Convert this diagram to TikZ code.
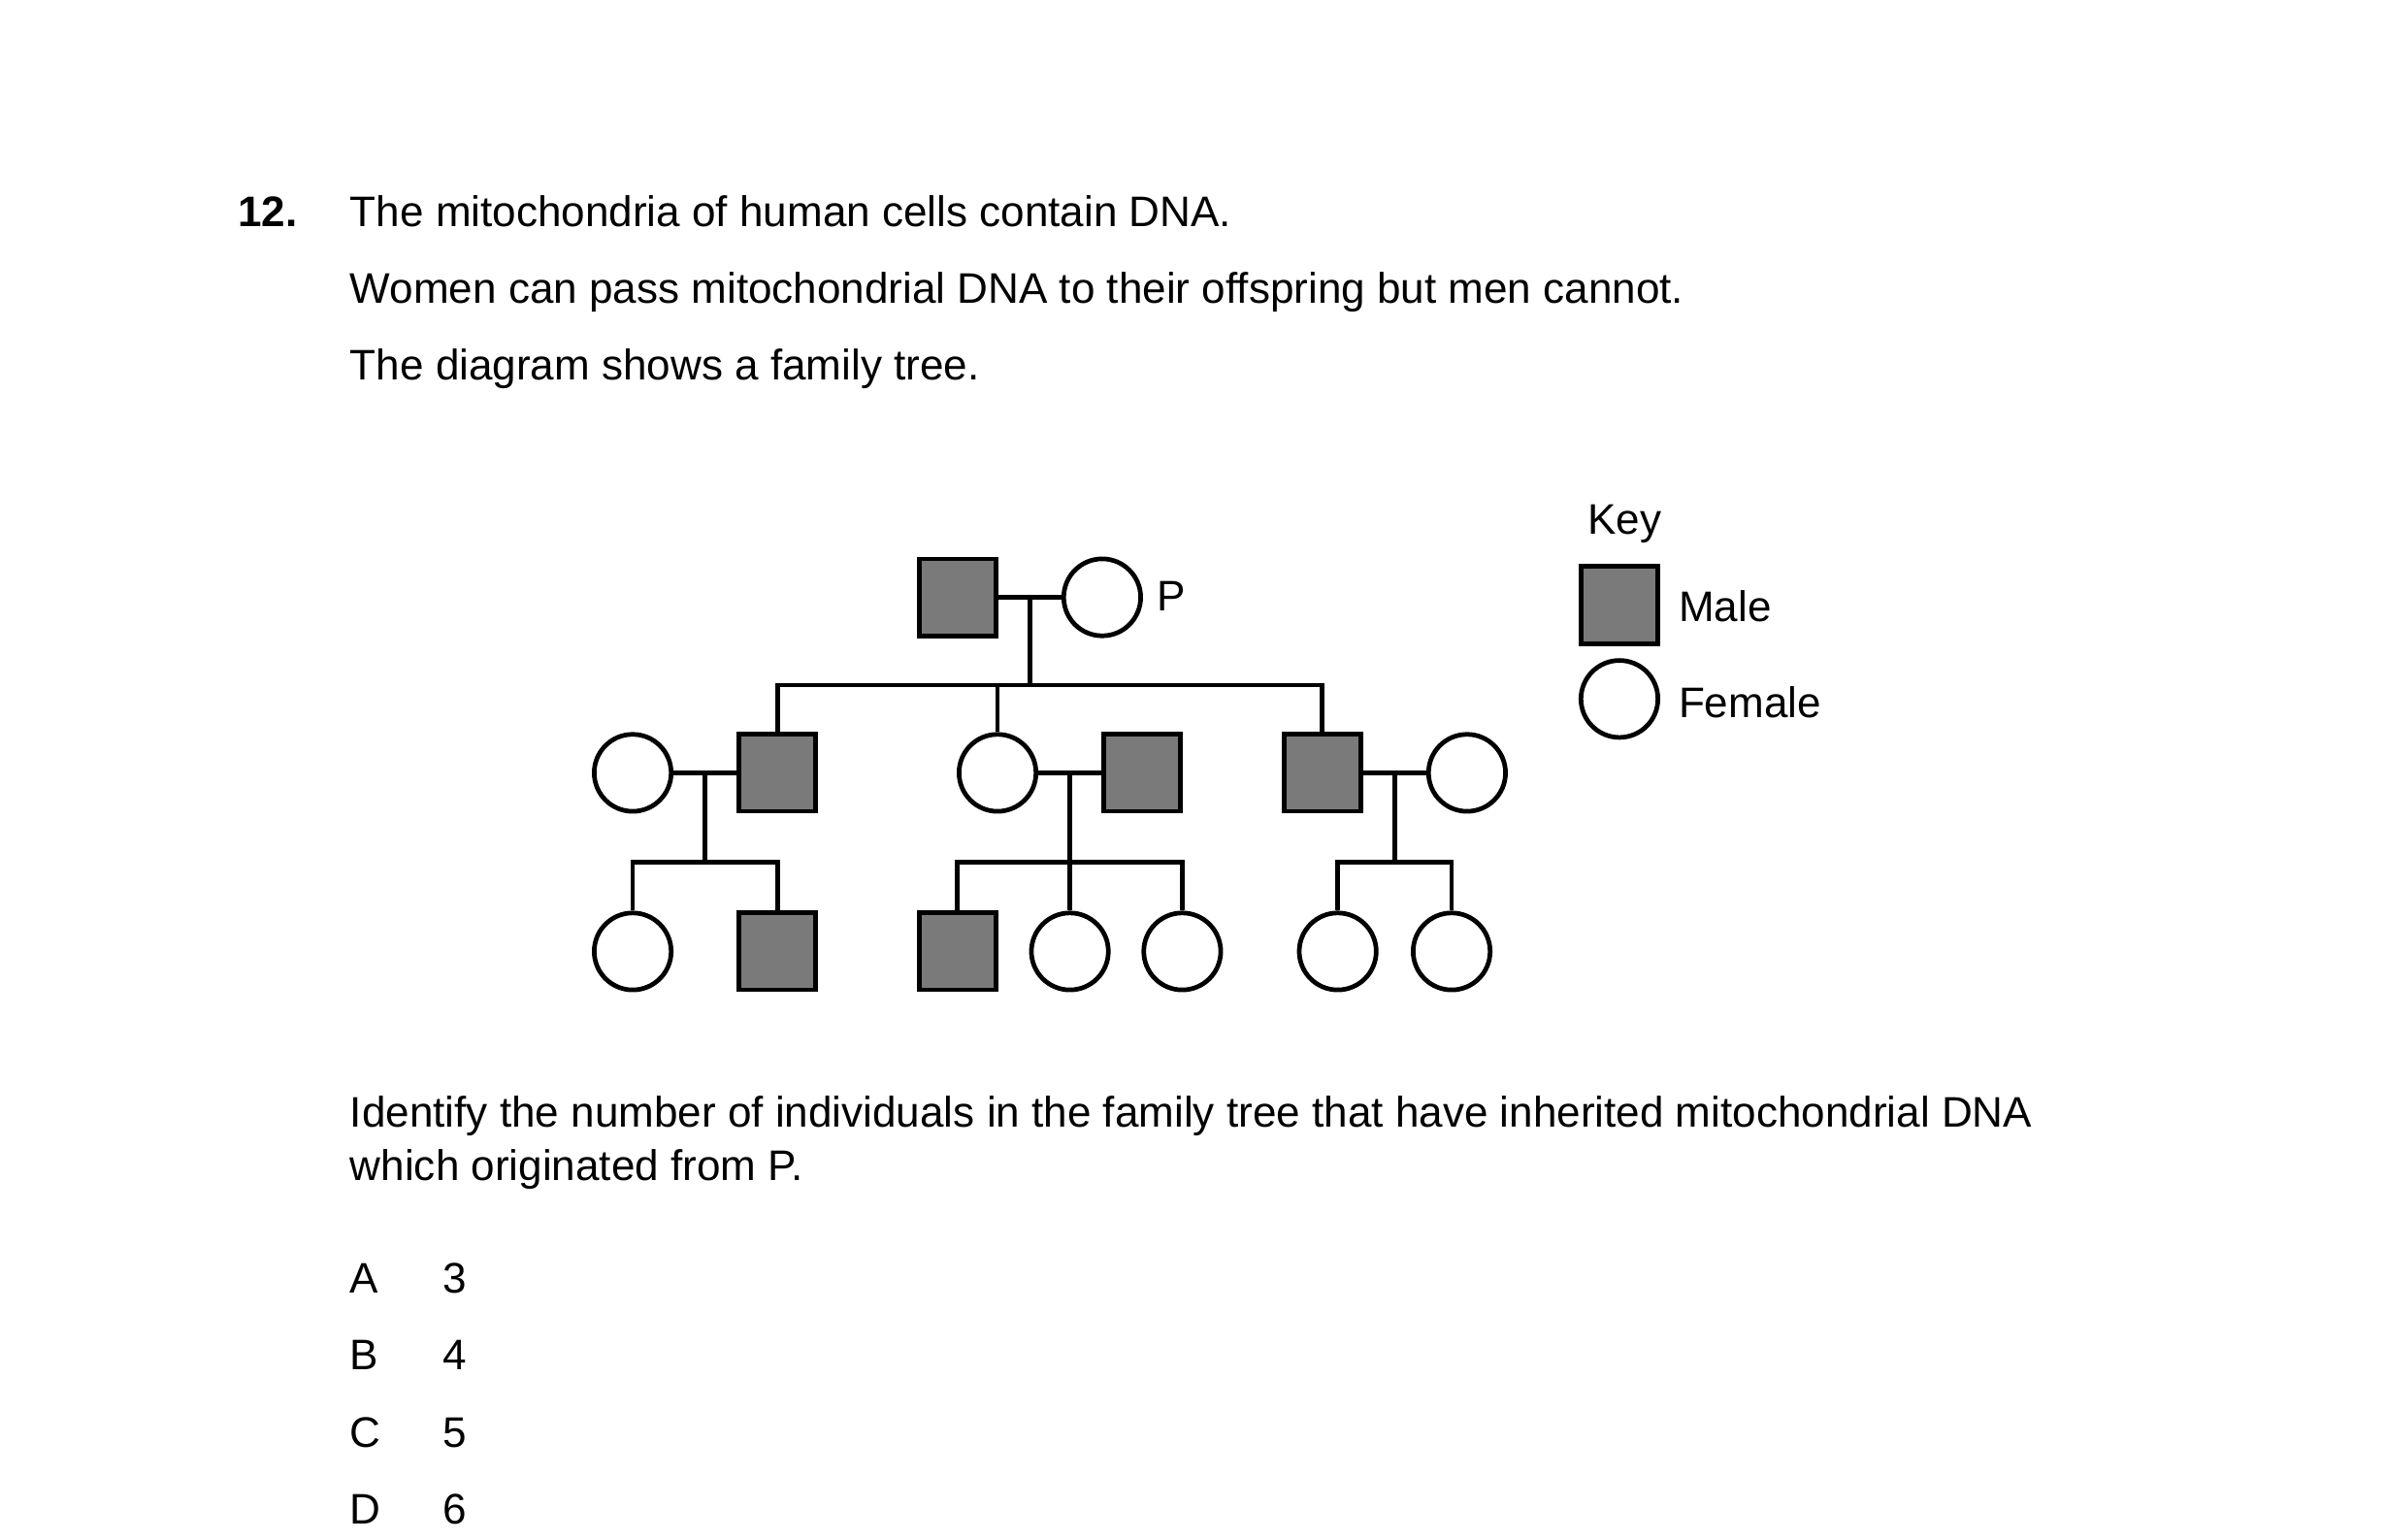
\documentclass[tikz,border=0pt]{standalone}
\usepackage{fontspec}
\setmainfont{Liberation Sans}
\begin{document}
\begin{tikzpicture}[x=0.1mm,y=-0.1mm,line width=0.85pt,
  font=\fontsize{7.9}{10}\selectfont,
  male/.style={rectangle,draw,fill=gray!70!black!80,minimum size=5mm,inner sep=0pt},
  female/.style={circle,draw,fill=white,minimum size=5mm,inner sep=0pt},
  txt/.style={anchor=base west,inner sep=0pt}]
  \useasboundingbox (0,0) rectangle (1550,1000);

  % question text
  \node[txt,font=\fontsize{7.9}{10}\selectfont\bfseries] (Num) at (153,147) {12.};
  \node[txt] (L1) at (226,147) {The mitochondria of human cells contain DNA.};
  \node[txt] (L2) at (226,197) {Women can pass mitochondrial DNA to their offspring but men cannot.};
  \node[txt] (L3) at (226,247) {The diagram shows a family tree.};

  % generation 1
  \node[male] (G1m) at (622,388) {};
  \node[female] (G1f) at (716,388) {};
  \node[txt] (P) at (750,397) {P};

  % generation 2
  \node[female] (G2af) at (411,502) {};
  \node[male] (G2am) at (505,502) {};
  \node[female] (G2bf) at (648,502) {};
  \node[male] (G2bm) at (742,502) {};
  \node[male] (G2cm) at (859,502) {};
  \node[female] (G2cf) at (953,502) {};

  % generation 3
  \node[female] (G3a) at (411,618) {};
  \node[male] (G3b) at (505,618) {};
  \node[male] (G3c) at (622,618) {};
  \node[female] (G3d) at (695,618) {};
  \node[female] (G3e) at (768,618) {};
  \node[female] (G3f) at (869,618) {};
  \node[female] (G3g) at (943,618) {};

  % couple lines and drops
  \coordinate (M1) at (669,388);
  \coordinate (M2a) at (458,502);
  \coordinate (M2b) at (695,502);
  \coordinate (M2c) at (906,502);
  \draw (G1m) -- (G1f);
  \draw (G2af) -- (G2am);
  \draw (G2bf) -- (G2bm);
  \draw (G2cm) -- (G2cf);
  \draw (M1) -- (669,445);
  \draw (G2am.north) |- (669,445) -| (G2cm.north);
  \draw (G2bf.north) -- (648,445);
  \draw (M2a) -- (458,560);
  \draw (G3a.north) |- (458,560) -| (G3b.north);
  \draw (M2b) -- (G3d.north);
  \draw (G3c.north) |- (695,560) -| (G3e.north);
  \draw (M2c) -- (906,560);
  \draw (G3f.north) |- (906,560) -| (G3g.north);

  % key
  \node[txt] (Key) at (1030,347) {Key};
  \node[male] (KeyM) at (1052,393) {};
  \node[txt] (KeyMt) at (1089,404) {Male};
  \node[female] (KeyF) at (1052,454) {};
  \node[txt] (KeyFt) at (1089,466) {Female};

  % question and options
  \node[txt] (Q1) at (226,732) {Identify the number of individuals in the family tree that have inherited mitochondrial DNA};
  \node[txt] (Q2) at (226,767) {which originated from P.};
  \foreach \l/\v/\y in {A/3/840,B/4/890,C/5/940,D/6/990}{
    \node[txt] (opt\l) at (226,\y) {\l};
    \node[txt] (val\l) at (286,\y) {\v};
  }
\end{tikzpicture}
\end{document}
